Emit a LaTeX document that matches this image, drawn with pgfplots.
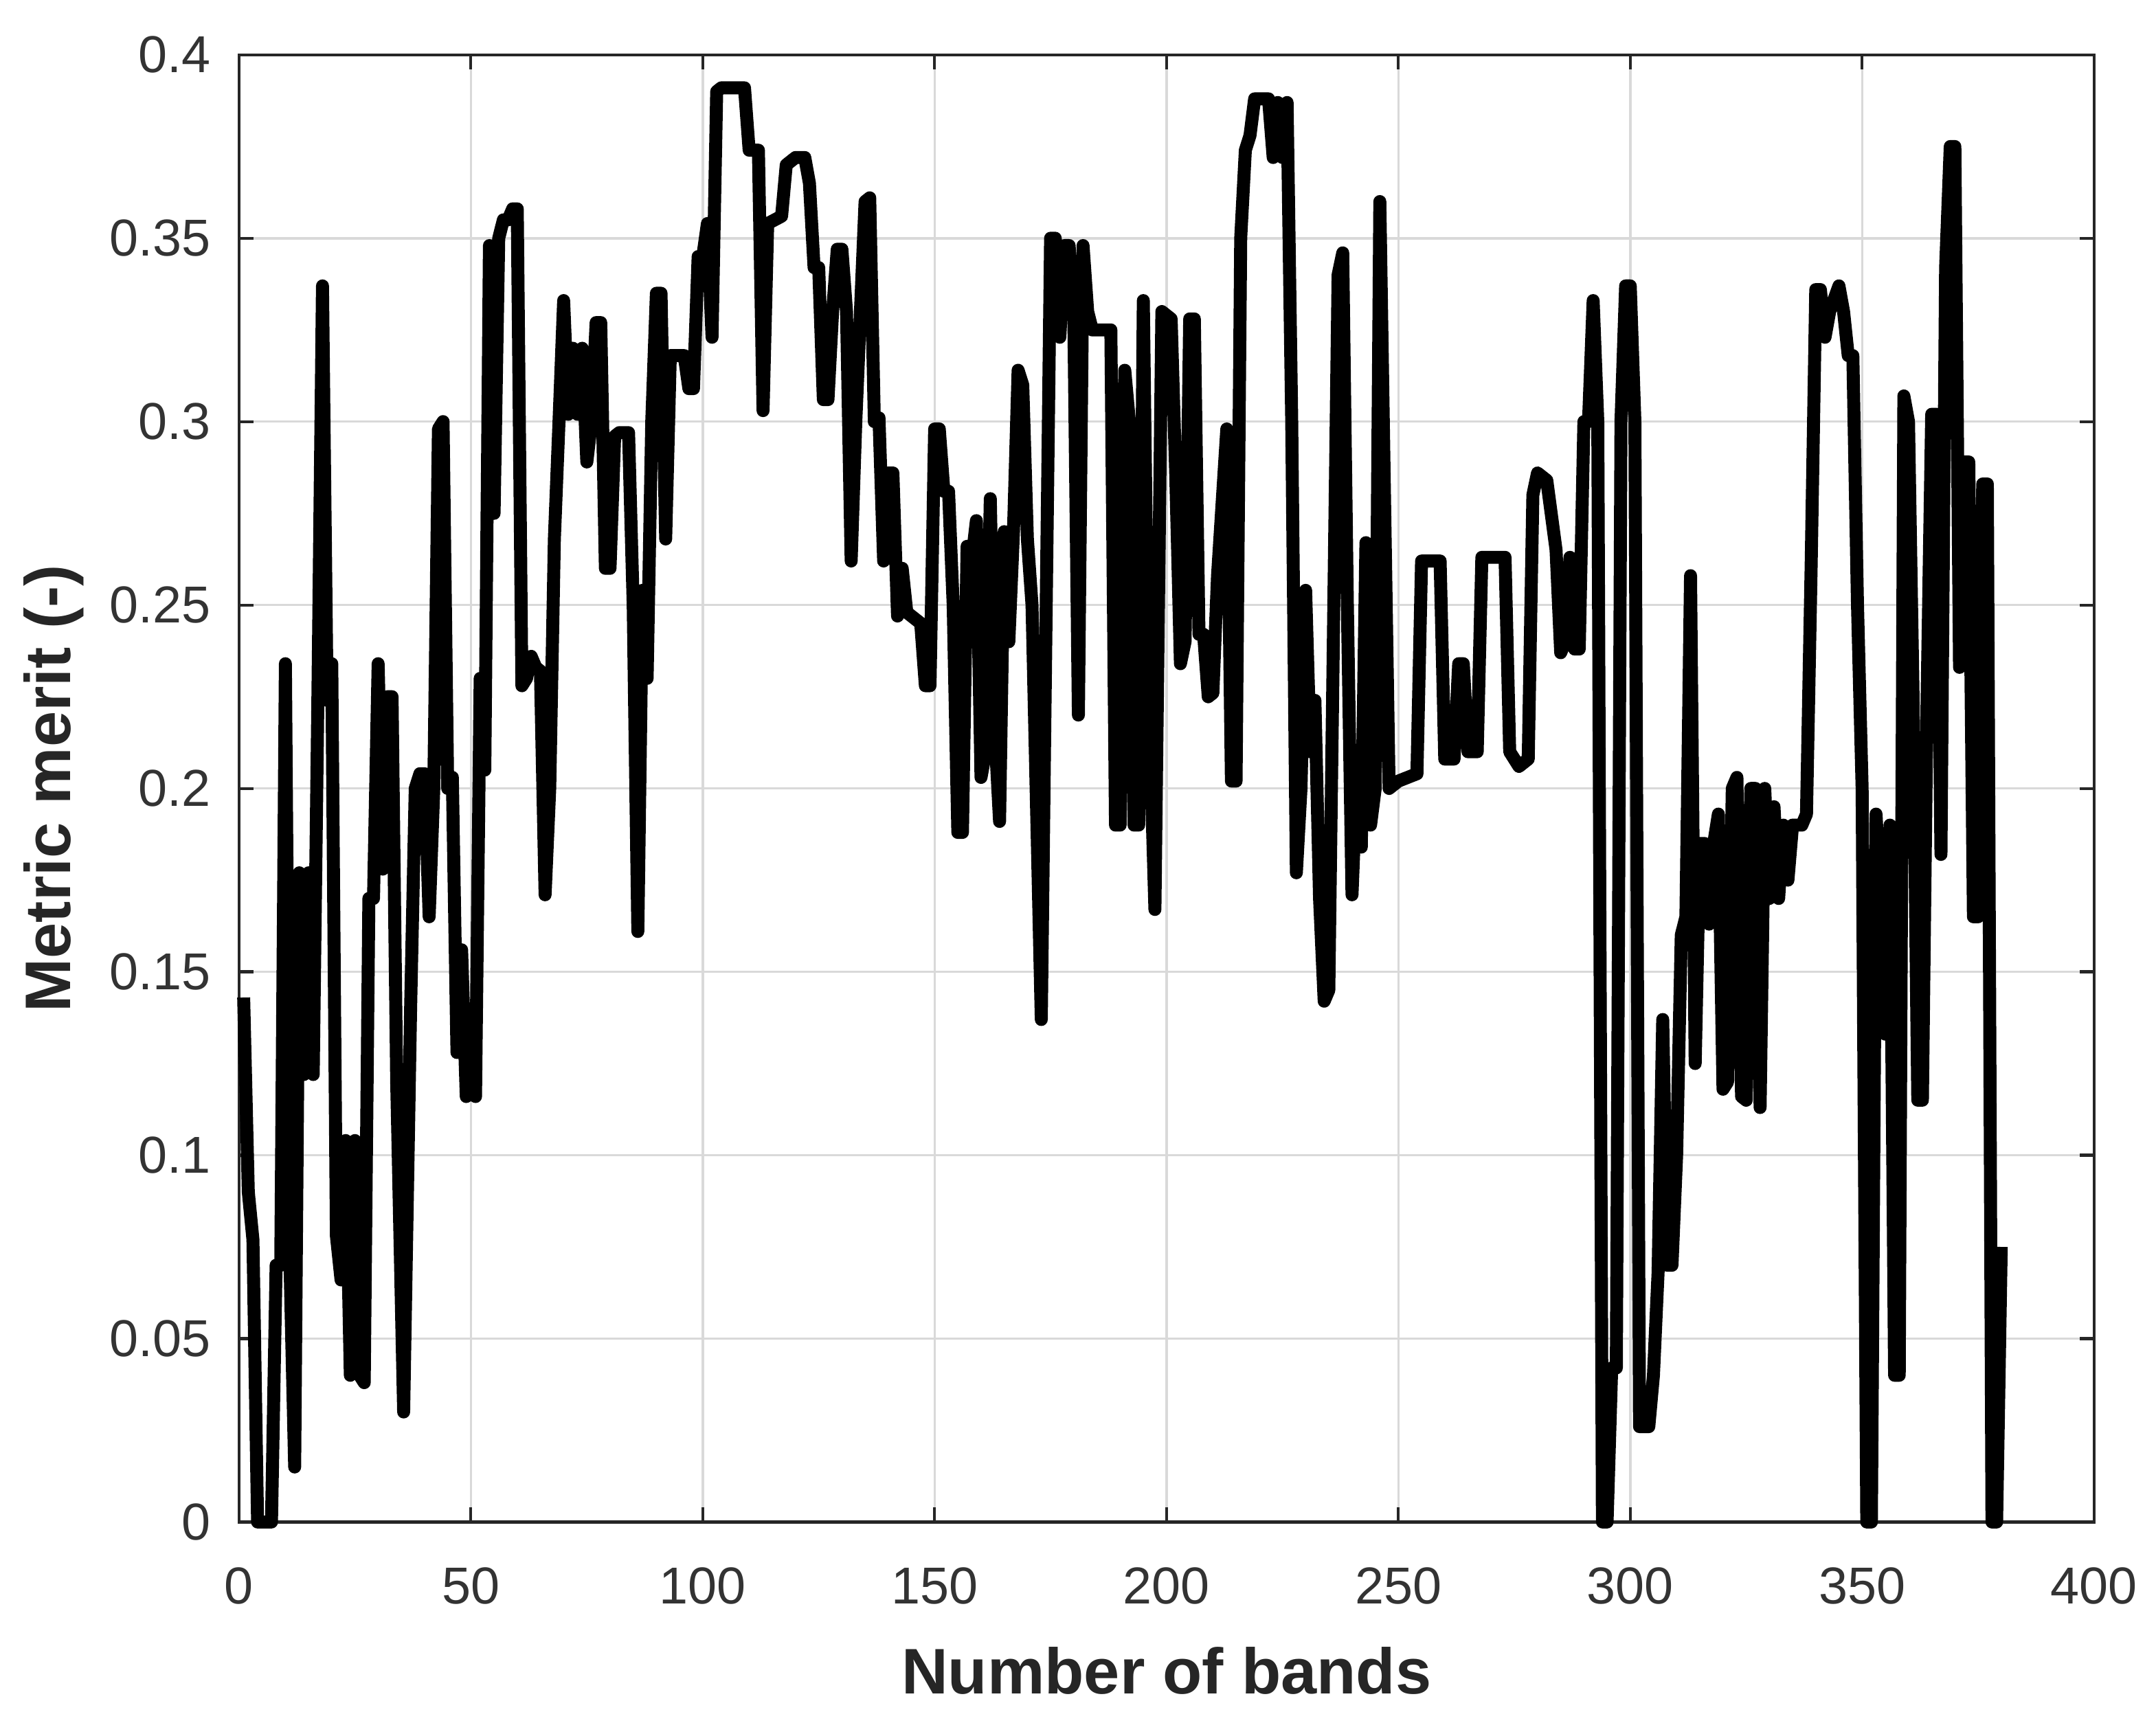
\documentclass[border=0pt]{standalone}
\usepackage{fontspec}
\setmainfont{Liberation Sans}
\usepackage{pgfplots}
\usepackage{pgfplotstable}
\pgfplotsset{compat=1.18}
\pgfplotstableread{
x y
1 0.143
2 0.09
3 0.077
4 0.0
7 0.0
8 0.07
9 0.07
10 0.234
11 0.07
12 0.015
13 0.177
14 0.122
15 0.177
16 0.122
17 0.224
18 0.337
19 0.224
20 0.234
21 0.078
22 0.066
23 0.104
24 0.04
25 0.104
26 0.04
27 0.038
28 0.17
29 0.17
30 0.234
31 0.178
32 0.225
33 0.225
34 0.12
35.5 0.03
37 0.14
38 0.2
39 0.204
40 0.204
41 0.165
42 0.2
43 0.298
44 0.3
45 0.2
46 0.203
47 0.128
48 0.156
49 0.116
50 0.125
51 0.116
52 0.23
53 0.205
54 0.348
55 0.275
56 0.35
57 0.355
58 0.355
59 0.358
60 0.358
61 0.228
62 0.23
63 0.236
64 0.233
65 0.232
66 0.171
67 0.2
68 0.268
69 0.3
70 0.333
71 0.302
72 0.32
73 0.302
74 0.32
75 0.289
76 0.3
77 0.327
78 0.327
79 0.26
80 0.26
81 0.296
82 0.297
84 0.297
85 0.25
86 0.161
87 0.254
88 0.23
89 0.3
90 0.335
91 0.335
92 0.268
93 0.318
96 0.318
97 0.309
98 0.309
99 0.345
100 0.345
101 0.354
102 0.323
103 0.39
104 0.391
109 0.391
110 0.374
112 0.374
113 0.303
114 0.354
117 0.356
118 0.37
120 0.372
122 0.372
123 0.365
124 0.342
125 0.342
126 0.306
127 0.306
128 0.33
129 0.347
130 0.347
131 0.33
132 0.262
133 0.3
134 0.33
135 0.36
136 0.361
137 0.3
138 0.301
139 0.262
140 0.286
141 0.286
142 0.247
143 0.26
144 0.248
147 0.245
148 0.228
149 0.228
150 0.298
151 0.298
152 0.281
153 0.281
154 0.25
155 0.188
156 0.188
157 0.266
158 0.262
159 0.273
160 0.203
161 0.21
162 0.279
163 0.215
164 0.191
165 0.27
166 0.24
167 0.27
168 0.314
169 0.31
170 0.268
171 0.25
173 0.137
175 0.35
176 0.35
177 0.323
178 0.348
179 0.348
180 0.33
181 0.22
182 0.348
183 0.33
184 0.325
188 0.325
189 0.19
190 0.19
191 0.314
192 0.3
193 0.19
194 0.19
195 0.333
196 0.232
197.5 0.167
199 0.33
201 0.328
202 0.285
203 0.234
204 0.24
205 0.328
206 0.328
207 0.242
208 0.242
209 0.225
210 0.226
211 0.258
213 0.298
214 0.202
215 0.202
216 0.35
217 0.374
218 0.378
219 0.388
222 0.388
223 0.372
224 0.387
225 0.372
226 0.387
227 0.3
228 0.177
229 0.2
230 0.254
231 0.21
232 0.224
233 0.17
234 0.142
235 0.145
237 0.34
238 0.346
239 0.25
240 0.171
241 0.203
242 0.184
243 0.267
244 0.19
245 0.2
246 0.36
248 0.2
250 0.202
254 0.204
255 0.262
259 0.262
260 0.208
262 0.208
263 0.234
264 0.234
265 0.21
267 0.21
268 0.263
273 0.263
274 0.21
276 0.206
278 0.208
279 0.28
280 0.286
282 0.284
284 0.265
285 0.237
286 0.24
287 0.263
288 0.238
289 0.238
290 0.3
291 0.3
292 0.333
293 0.3
294 0.0
295 0.0
296 0.042
297 0.042
298 0.3
299 0.337
300 0.337
301 0.3
302 0.026
304 0.026
305 0.04
306 0.068
307 0.137
308 0.07
309 0.07
310 0.1
311 0.16
312 0.165
313 0.258
314 0.125
315 0.185
316 0.185
317 0.163
318 0.185
319 0.193
320 0.118
321 0.12
322 0.2
323 0.203
324 0.116
325 0.115
326 0.2
327 0.2
328 0.113
329 0.2
330 0.17
331 0.195
332 0.17
333 0.19
334 0.175
335 0.19
337 0.19
338 0.193
339 0.26
340 0.336
341 0.336
342 0.323
343 0.33
345 0.337
346 0.33
347 0.318
348 0.318
349 0.25
350 0.2
351 0.0
352 0.0
353 0.193
354 0.169
355 0.133
356 0.19
357 0.04
358 0.04
359 0.307
360 0.3
361 0.224
362 0.115
363 0.115
364 0.224
365 0.302
366 0.302
367 0.182
368 0.342
369 0.375
370 0.375
371 0.233
372 0.289
373 0.289
374 0.165
375 0.165
376 0.283
377 0.283
378 0.0
379 0.0
380 0.075
}\merit
\begin{document}
\begin{tikzpicture}
\begin{axis}[
  name=ax,
  scale only axis,
  width=385.7pt, height=305.1pt,
  xmin=0, xmax=400, ymin=0, ymax=0.4,
  xtick={0,50,100,150,200,250,300,350,400},
  xticklabels={0,50,100,150,200,250,300,350,400},
  ytick={0,0.05,0.1,0.15,0.2,0.25,0.3,0.35,0.4},
  yticklabels={0,0.05,0.1,0.15,0.2,0.25,0.3,0.35,0.4},
  grid=major,
  major grid style={black!15, line width=0.5pt},
  axis line style={black!85, line width=0.6pt},
  tick style={black!85, line width=0.6pt},
  tick align=inside,
  major tick length=3pt,
  ticklabel style={font=\fontsize{10.8}{12}\selectfont, text=black!80},
  xticklabel shift=6pt,
  yticklabel shift=2.4pt,
  xlabel={Number of bands},
  ylabel={Metric merit (-)},
  label style={font=\fontsize{13.4}{15}\selectfont\bfseries, text=black!85},
  xlabel style={at={(axis description cs:0.5,-0.1016)}, anchor=center},
  ylabel style={at={(axis description cs:-0.1,0.5)}, anchor=center},
  clip=false,
]
\addplot[black, line width=2.7pt, line join=round] table[x=x, y=y] {\merit};
\end{axis}
\pgfresetboundingbox
\path[use as bounding box] ([xshift=-49.7pt,yshift=-39.4pt]ax.south west) rectangle ([xshift=12.9pt,yshift=11.4pt]ax.north east);
\end{tikzpicture}
\end{document}
